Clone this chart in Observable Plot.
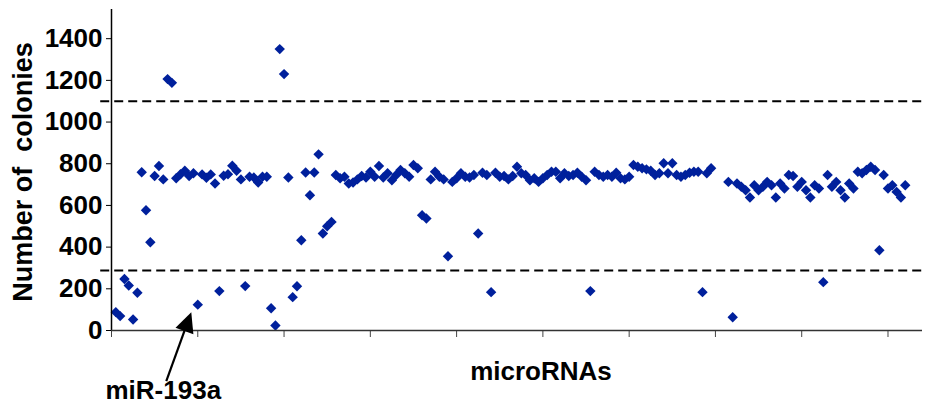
<!DOCTYPE html>
<html><head><meta charset="utf-8">
<script src="https://cdn.jsdelivr.net/npm/d3@7"></script>
<script src="https://cdn.jsdelivr.net/npm/@observablehq/plot@0.6"></script>
<style>
body{margin:0;background:#fff;}
#chart{width:926px;height:410px;}
</style></head><body><div id="chart"></div>
<script>
// Number of colonies per microRNA (in screening order)
const colonies001_032 = [88,69,247,216,53,181,759,577,423,741,789,725,1206,1188,730,750,766,741,754,124,749,733,749,705,189,742,750,790,766,725,213,738];
const colonies033_063 = [734,710,738,738,107,24,1350,1230,734,160,212,433,758,649,758,845,465,500,521,746,730,738,705,710,725,741,734,762,738,789,734];
const colonies064_095 = [754,721,746,770,754,738,794,778,553,537,725,762,738,725,356,713,730,754,738,734,746,465,757,746,184,757,738,741,725,741,786];
const colonies096_127 = [754,746,721,730,713,730,746,762,762,730,754,741,746,757,738,721,189,762,746,738,746,738,757,730,725,738,794,786,778,773,766,746];
const colonies128_143 = [754,802,754,802,746,738,746,757,762,762,184,754,778,null,null,null];
const colonies144_158 = [713,64,705,690,673,638,697,673,690,713,697,638,705,681,746];
const colonies159_185 = [741,690,713,673,638,697,681,232,746,690,713,673,638,705,681,762,754,770,786,770,385,746,681,697,665,638,697];

const colonies = [...colonies001_032, ...colonies033_063, ...colonies064_095, ...colonies096_127,
                  ...colonies128_143, ...colonies144_158, ...colonies159_185];
const points = colonies.map((v, i) => ({microRNA: i + 1, colonies: v})).filter(d => d.colonies != null);

const thresholds = [1100, 288];
const yTicks = [0, 200, 400, 600, 800, 1000, 1200, 1400];
const xTicks = [0, 20, 40, 60, 80, 100, 120, 140, 160, 180];
const xDomain = [0, 188];
const yDomain = [0, 1540];
const highlight = {label: "miR-193a", microRNA: 20};

const font = '"Liberation Sans", Arial, Helvetica, sans-serif';
const hp = points.find(d => d.microRNA === highlight.microRNA);

function arrowMark(index, scales) {
  const px = scales.x(hp.microRNA), py = scales.y(hp.colonies);
  const tip = [px - 6, py + 8], tail = [px - 31, py + 77];
  const dx = tip[0] - tail[0], dy = tip[1] - tail[1];
  const L = Math.hypot(dx, dy), ux = dx / L, uy = dy / L;
  const hl = 20, hw = 9.5;
  const bx = tip[0] - ux * hl, by = tip[1] - uy * hl;
  const g = d3.create("svg:g");
  g.append("line").attr("x1", tail[0]).attr("y1", tail[1]).attr("x2", bx).attr("y2", by)
    .attr("stroke", "#000").attr("stroke-width", 2.2);
  g.append("path").attr("d", `M${tip[0]},${tip[1]}L${bx - uy * hw},${by + ux * hw}L${bx + uy * hw},${by - ux * hw}Z`)
    .attr("fill", "#000");
  return g.node();
}

const fig = Plot.plot({
  width: 926, height: 410,
  marginLeft: 111, marginRight: 4, marginTop: 9, marginBottom: 80,
  style: {fontFamily: font, fontWeight: "bold", color: "#000", background: "#fff", overflow: "visible"},
  x: {domain: xDomain},
  y: {domain: yDomain},
  marks: [
    Plot.ruleY(thresholds, {x1: -2.5, x2: xDomain[1], stroke: "#000", strokeWidth: 2, strokeDasharray: "9,5"}),
    Plot.dot(points, {x: "microRNA", y: "colonies", symbol: "diamond2", r: 4.7, fill: "#00209c", stroke: "none"}),
    Plot.axisY({ticks: yTicks, tickFormat: d => String(d), tickSize: 5, tickPadding: 4, label: null, fontSize: 26, fontWeight: "bold", stroke: "#000"}),
    Plot.axisX({ticks: xTicks, tickSize: 7, tickFormat: () => "", label: null, stroke: "#444"}),
    Plot.ruleX([0], {stroke: "#000", strokeWidth: 1.5}),
    Plot.ruleY([0], {stroke: "#333", strokeWidth: 1.5}),
    Plot.text(["Number of  colonies"], {frameAnchor: "left", textAnchor: "middle", rotate: -90, dx: -88, dy: 2, fontSize: 27, fontWeight: "bold", fill: "#000"}),
    Plot.text(["microRNAs"], {frameAnchor: "bottom", dx: 24, dy: 49, fontSize: 26, fontWeight: "bold", fill: "#000"}),
    Plot.text([highlight.label], {frameAnchor: "bottom-left", textAnchor: "start", dx: -6, dy: 68, fontSize: 26, fontWeight: "bold", fill: "#000"}),
    arrowMark
  ]
});
document.getElementById("chart").append(fig);
</script>
</body></html>
